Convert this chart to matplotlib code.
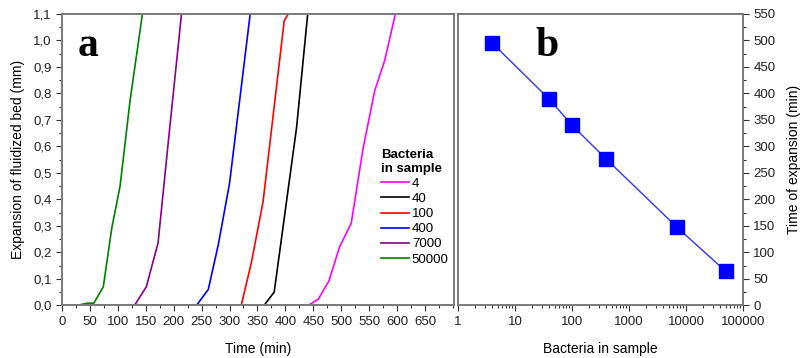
import matplotlib.pyplot as plt
from matplotlib.ticker import MultipleLocator, FixedLocator, LogLocator, NullFormatter, FuncFormatter

# panel a: expansion curves (time in min, expansion in mm)
t_4 = [378, 441, 459, 478, 497, 518, 539, 560, 578, 597]
e_4 = [0, 0, 0.023, 0.092, 0.22, 0.31, 0.59, 0.81, 0.925, 1.1]
t_40 = [362, 380, 420, 440]
e_40 = [0, 0.05, 0.67, 1.1]
t_100 = [240, 321, 339, 360, 398, 405]
e_100 = [0, 0, 0.16, 0.39, 1.075, 1.1]
t_400 = [0, 241, 262, 280, 300, 337]
e_400 = [0, 0, 0.06, 0.23, 0.46, 1.1]
t_7000 = [130, 151, 172, 191, 214]
e_7000 = [0, 0.07, 0.235, 0.63, 1.1]
t_50000 = [28, 45, 57, 74, 89, 104, 122, 144]
e_50000 = [0, 0.008, 0.008, 0.07, 0.29, 0.45, 0.775, 1.1]

labels = ["4", "40", "100", "400", "7000", "50000"]
colors = ["#ff00ff", "#000000", "#ff0000", "#0000ff", "#880088", "#008000"]

# panel b: time of expansion vs number of bacteria
bacteria = [4, 40, 100, 400, 7000, 50000]
t_exp = [495, 389, 340, 276, 147, 64]

plt.rcParams['font.family'] = ['Liberation Sans', 'DejaVu Sans']
plt.rcParams['font.size'] = 9.5

W, H = 804, 358
fig = plt.figure(figsize=(W / 100, H / 100), dpi=100)
bot = (358 - 305.3) / H
hgt = (305.3 - 14) / H
ax1 = fig.add_axes([62 / W, bot, (454 - 62) / W, hgt])
ax2 = fig.add_axes([458 / W, bot, (743 - 458) / W, hgt])

spine_c = "#7a7a7a"
for ax in (ax1, ax2):
    for s in ax.spines.values():
        s.set_color(spine_c)
        s.set_linewidth(1.4)
    ax.tick_params(which='both', direction='out', color='#333333', labelcolor='#222222')
    ax.tick_params(which='major', length=4, width=0.8)
    ax.tick_params(which='minor', length=2.5, width=0.8)

xs = [t_4, t_40, t_100, t_400, t_7000, t_50000]
ys = [e_4, e_40, e_100, e_400, e_7000, e_50000]
for x, y, c, lab in zip(xs, ys, colors, labels):
    ax1.plot(x, y, color=c, lw=1.2, label=lab)

ax1.set_xlim(0, 702)
ax1.set_ylim(0, 1.1)
ax1.xaxis.set_major_locator(FixedLocator(list(range(0, 651, 50))))
ax1.xaxis.set_minor_locator(MultipleLocator(25))
ax1.yaxis.set_major_locator(MultipleLocator(0.1))
ax1.yaxis.set_minor_locator(MultipleLocator(0.05))
ax1.yaxis.set_major_formatter(FuncFormatter(lambda v, p: f"{v:.1f}".replace(".", ",")))
ax1.tick_params(top=False, right=False)
ax1.set_xlabel("Time (min)", fontsize=10, labelpad=10)
ax1.set_ylabel("Expansion of fluidized bed (mm)", fontsize=10, labelpad=6)
ax1.text(0.04, 0.89, "a", transform=ax1.transAxes, fontsize=30, fontweight='bold',
         family='Liberation Serif', va='center', ha='left')

leg = ax1.legend(title="Bacteria\nin sample", loc='upper left', bbox_to_anchor=(0.8, 0.555),
                 frameon=False, fontsize=9.5, handlelength=2.1, handletextpad=0.25,
                 labelspacing=0.22, borderaxespad=0)
leg.get_title().set_fontweight('bold')
leg.get_title().set_fontsize(9.5)
leg._legend_box.align = "left"

ax2.plot(bacteria, t_exp, color='#3333ff', lw=1.0, marker='s', markersize=10,
         markerfacecolor='#0000ff', markeredgecolor='#0000ff')
ax2.set_xscale('log')
ax2.set_xlim(1, 100000)
ax2.set_ylim(0, 550)
ax2.xaxis.set_major_locator(FixedLocator([1, 10, 100, 1000, 10000, 100000]))
ax2.xaxis.set_major_formatter(FuncFormatter(lambda v, p: f"{int(round(v))}"))
ax2.xaxis.set_minor_locator(LogLocator(base=10, subs=range(2, 10)))
ax2.xaxis.set_minor_formatter(NullFormatter())
ax2.yaxis.set_major_locator(MultipleLocator(50))
ax2.yaxis.set_minor_locator(MultipleLocator(25))
ax2.yaxis.tick_right()
ax2.yaxis.set_label_position('right')
ax2.tick_params(top=False, left=False)
ax2.set_xlabel("Bacteria in sample", fontsize=10, labelpad=10)
ax2.set_ylabel("Time of expansion (min)", fontsize=10, labelpad=8)
ax2.text(0.27, 0.89, "b", transform=ax2.transAxes, fontsize=30, fontweight='bold',
         family='Liberation Serif', va='center', ha='left')

fig.savefig("out.png", dpi=100)
